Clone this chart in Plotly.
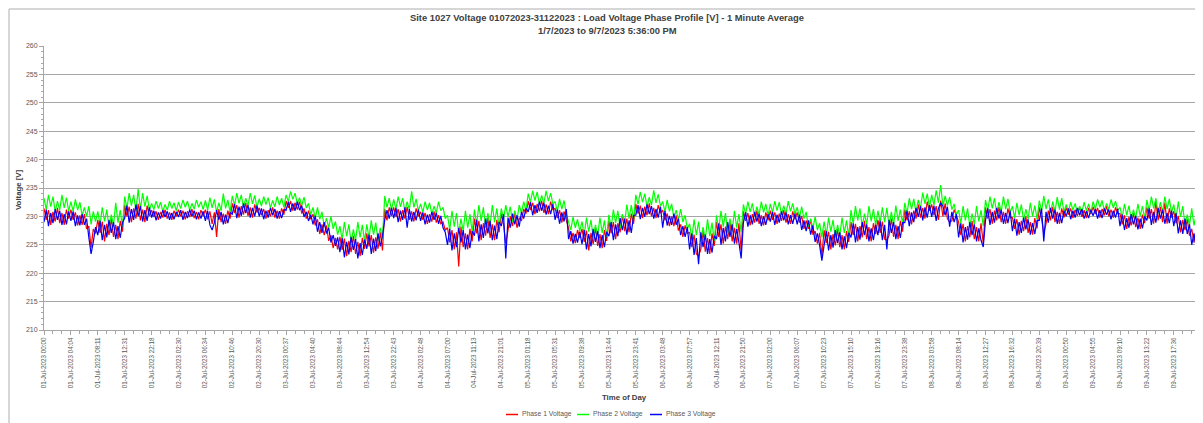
import plotly.graph_objects as go

# ---------------- data ----------------
tick_labels = [
    "01-Jul-2023 00:00", "01-Jul-2023 04:04", "01-Jul-2023 08:11", "01-Jul-2023 12:31",
    "01-Jul-2023 22:18", "02-Jul-2023 02:30", "02-Jul-2023 06:34", "02-Jul-2023 10:46",
    "02-Jul-2023 20:30", "03-Jul-2023 00:37", "03-Jul-2023 04:40", "03-Jul-2023 08:44",
    "03-Jul-2023 12:54", "03-Jul-2023 22:43", "04-Jul-2023 02:48", "04-Jul-2023 07:00",
    "04-Jul-2023 11:13", "04-Jul-2023 21:01", "05-Jul-2023 01:18", "05-Jul-2023 05:31",
    "05-Jul-2023 09:38", "05-Jul-2023 13:44", "05-Jul-2023 23:41", "06-Jul-2023 03:48",
    "06-Jul-2023 07:57", "06-Jul-2023 12:11", "06-Jul-2023 21:50", "07-Jul-2023 02:00",
    "07-Jul-2023 06:07", "07-Jul-2023 10:23", "07-Jul-2023 15:10", "07-Jul-2023 19:16",
    "07-Jul-2023 23:38", "08-Jul-2023 03:58", "08-Jul-2023 08:14", "08-Jul-2023 12:27",
    "08-Jul-2023 16:32", "08-Jul-2023 20:39", "09-Jul-2023 00:50", "09-Jul-2023 04:55",
    "09-Jul-2023 09:10", "09-Jul-2023 13:22", "09-Jul-2023 17:36",
]
samples_per_label = 12

phase1_voltage = [
    231.4, 229.4, 231.1, 228.5, 230.8, 229.1, 231.5, 228.8, 230.6, 228.5, 231.2, 229.6,
    231.2, 229.4, 230.7, 228.4, 230.2, 228.5, 230.4, 227.8, 228.3, 224.5, 227.8, 227.0,
    229.4, 227.1, 229.1, 225.6, 228.7, 226.7, 229.6, 226.4, 228.5, 226.0, 229.2, 227.3,
    232.0, 230.0, 231.7, 229.0, 231.4, 229.6, 232.2, 229.3, 231.2, 229.0, 231.9, 230.1,
    231.1, 229.9, 230.9, 229.4, 230.8, 229.8, 231.2, 229.6, 230.7, 229.4, 231.0, 230.0,
    231.2, 230.0, 231.0, 229.5, 230.9, 229.9, 231.3, 229.7, 230.8, 229.5, 231.1, 230.1,
    231.2, 229.5, 230.9, 228.7, 230.7, 226.4, 231.3, 229.0, 230.5, 228.7, 231.0, 229.6,
    232.3, 230.6, 232.0, 229.8, 231.8, 230.3, 232.4, 230.1, 231.6, 229.8, 232.1, 230.7,
    231.5, 230.2, 231.3, 229.6, 231.1, 230.0, 231.6, 229.8, 231.0, 229.6, 231.4, 230.3,
    232.7, 231.5, 232.7, 231.0, 232.4, 231.2, 232.6, 230.5, 231.4, 229.6, 231.0, 229.5,
    230.4, 228.4, 229.5, 226.9, 228.6, 226.7, 228.4, 225.7, 226.7, 224.4, 226.2, 224.2,
    226.4, 224.1, 226.1, 223.0, 225.7, 223.7, 226.6, 223.4, 225.5, 223.0, 226.2, 224.3,
    227.0, 224.7, 226.7, 223.6, 226.3, 224.3, 227.2, 224.0, 231.3, 229.3, 231.6, 230.1,
    231.6, 229.9, 231.3, 229.1, 231.1, 229.6, 231.7, 229.4, 230.9, 229.1, 231.4, 230.0,
    230.8, 229.4, 230.6, 228.7, 230.4, 229.1, 230.9, 228.9, 230.2, 228.7, 229.0, 227.6,
    228.0, 225.4, 227.6, 224.2, 227.2, 221.2, 228.2, 224.6, 227.0, 224.2, 227.8, 225.6,
    229.6, 227.0, 229.2, 225.8, 228.8, 226.6, 229.8, 226.2, 228.6, 225.8, 229.4, 227.2,
    230.5, 228.6, 225.2, 227.7, 230.0, 228.3, 230.7, 228.0, 229.8, 229.2, 231.3, 230.5,
    232.7, 231.1, 232.4, 230.4, 232.2, 230.9, 232.8, 230.6, 232.1, 230.4, 232.6, 231.2,
    231.4, 229.7, 231.1, 228.9, 230.9, 229.4, 227.9, 225.6, 227.1, 225.3, 227.6, 226.2,
    227.8, 225.5, 227.5, 224.0, 227.1, 225.1, 228.0, 224.8, 226.9, 224.4, 227.6, 225.7,
    229.2, 227.0, 229.0, 226.0, 228.8, 227.2, 230.2, 227.4, 229.6, 227.2, 230.5, 228.7,
    232.2, 230.5, 231.9, 229.7, 231.7, 230.2, 232.3, 230.0, 231.5, 229.7, 232.0, 230.6,
    231.1, 229.3, 230.5, 228.3, 230.0, 228.3, 230.2, 227.5, 228.6, 226.4, 228.4, 227.0,
    227.2, 224.6, 226.8, 223.4, 223.0, 224.2, 227.4, 223.8, 226.2, 223.4, 227.0, 224.8,
    229.0, 226.4, 228.6, 225.2, 228.2, 226.0, 229.2, 225.6, 228.0, 225.2, 228.8, 224.0,
    230.9, 229.2, 230.6, 228.4, 230.4, 228.9, 231.0, 228.7, 230.2, 228.4, 230.7, 229.3,
    231.0, 229.4, 230.7, 228.7, 230.5, 229.2, 231.1, 228.9, 230.4, 228.7, 230.9, 229.5,
    230.7, 228.9, 230.1, 227.8, 229.3, 227.8, 229.4, 226.8, 227.4, 225.2, 227.1, 223.0,
    227.6, 225.3, 227.3, 224.2, 226.9, 224.9, 227.8, 224.6, 226.7, 224.2, 227.4, 225.5,
    229.0, 226.7, 228.7, 225.6, 228.3, 226.3, 229.2, 226.0, 228.1, 225.6, 228.8, 226.9,
    229.4, 227.1, 229.1, 226.0, 225.8, 226.7, 229.6, 226.4, 228.5, 226.0, 229.2, 227.3,
    231.2, 229.3, 230.9, 228.6, 231.0, 229.6, 232.1, 229.8, 231.5, 229.6, 232.6, 231.0,
    232.1, 230.2, 231.8, 229.4, 232.8, 230.0, 232.3, 229.6, 229.0, 229.2, 231.2, 230.2,
    229.0, 226.7, 228.7, 225.6, 228.3, 226.3, 229.2, 226.0, 228.1, 225.6, 228.8, 225.2,
    231.6, 229.6, 231.3, 228.7, 231.0, 229.3, 231.7, 229.0, 230.8, 228.7, 231.4, 229.8,
    229.8, 227.8, 229.5, 226.8, 229.2, 227.4, 230.0, 227.1, 229.0, 226.8, 229.7, 227.9,
    231.6, 229.6, 227.0, 228.7, 231.0, 229.3, 231.7, 229.0, 230.8, 228.7, 231.4, 229.8,
    231.6, 230.3, 231.4, 229.7, 231.2, 230.1, 231.7, 229.9, 231.1, 229.7, 231.5, 230.4,
    231.7, 230.4, 231.5, 229.8, 231.3, 230.2, 231.8, 230.0, 231.2, 229.8, 231.6, 230.5,
    230.5, 228.6, 230.2, 227.8, 229.9, 228.4, 230.6, 228.1, 229.8, 227.8, 230.3, 228.8,
    231.6, 229.6, 231.3, 228.7, 232.6, 229.3, 231.7, 229.0, 232.4, 228.7, 231.4, 229.8,
    230.9, 228.8, 230.1, 227.2, 229.4, 227.6, 229.5, 226.6, 227.8, 225.4, 227.8, 226.0,
    226.4, 227.0,
]

phase2_voltage = [
    233.2, 231.2, 233.8, 231.7, 233.5, 230.8, 232.7, 231.1, 233.8, 231.5, 233.3, 230.9,
    232.6, 230.9, 233.0, 231.1, 232.5, 230.1, 231.6, 230.0, 231.8, 228.6, 230.9, 229.1,
    230.9, 228.5, 231.6, 229.1, 231.2, 228.0, 230.3, 228.4, 232.4, 228.9, 231.1, 228.2,
    233.5, 231.4, 234.1, 231.9, 233.8, 230.9, 234.8, 231.2, 234.1, 231.7, 233.6, 231.1,
    232.3, 231.2, 232.7, 231.4, 232.5, 230.9, 232.1, 231.1, 232.7, 231.4, 232.4, 231.0,
    232.5, 231.4, 232.9, 231.6, 232.7, 231.1, 232.3, 231.3, 232.9, 231.6, 232.6, 231.2,
    232.8, 231.1, 233.3, 231.5, 233.0, 230.7, 232.4, 231.0, 234.0, 231.4, 232.9, 230.8,
    233.6, 231.9, 234.1, 232.3, 233.8, 231.5, 233.2, 231.8, 234.1, 232.2, 233.7, 231.6,
    233.1, 231.8, 233.5, 232.1, 233.3, 231.5, 232.8, 231.7, 233.5, 232.0, 233.2, 231.6,
    233.8, 232.6, 234.4, 233.0, 234.1, 232.2, 233.3, 231.9, 233.4, 231.5, 232.3, 230.3,
    231.6, 229.6, 231.6, 229.5, 230.8, 228.2, 229.7, 228.0, 230.0, 227.8, 229.1, 226.8,
    228.3, 225.9, 229.0, 226.5, 228.6, 225.4, 227.7, 225.8, 229.0, 226.3, 228.5, 225.6,
    228.6, 226.2, 229.3, 226.8, 228.9, 225.7, 228.0, 226.1, 233.6, 231.6, 233.2, 231.1,
    233.0, 231.3, 233.5, 231.7, 233.2, 230.9, 232.6, 231.2, 234.4, 231.6, 233.1, 231.0,
    232.2, 230.7, 232.6, 231.1, 232.4, 230.4, 231.8, 230.6, 232.6, 231.0, 231.6, 229.6,
    230.2, 227.6, 231.0, 228.2, 230.6, 227.0, 229.6, 227.4, 231.0, 228.0, 230.4, 227.2,
    231.2, 228.6, 232.0, 229.2, 231.6, 228.0, 230.6, 228.4, 232.0, 229.0, 231.4, 228.2,
    231.4, 229.5, 232.0, 229.9, 231.7, 229.0, 231.0, 229.3, 232.0, 230.6, 232.6, 231.0,
    234.0, 232.5, 234.5, 232.8, 234.3, 232.1, 233.7, 232.3, 234.5, 232.7, 234.1, 232.2,
    232.6, 230.9, 233.1, 231.3, 232.8, 230.5, 229.0, 227.6, 229.9, 228.0, 229.5, 227.4,
    229.1, 226.7, 229.8, 227.3, 229.4, 226.2, 228.5, 226.6, 229.8, 227.1, 229.3, 226.4,
    230.3, 228.0, 231.2, 228.8, 231.0, 227.9, 230.4, 228.8, 232.1, 229.6, 232.0, 229.4,
    233.8, 232.1, 234.3, 232.5, 234.0, 231.7, 233.4, 232.0, 234.6, 232.4, 233.9, 231.8,
    232.6, 230.8, 232.9, 230.9, 232.2, 229.7, 231.1, 229.4, 231.3, 229.0, 230.2, 227.8,
    228.7, 226.1, 229.5, 226.7, 229.1, 225.5, 228.1, 225.9, 229.5, 226.5, 228.9, 225.7,
    230.2, 227.6, 231.0, 228.2, 230.6, 227.0, 229.6, 227.4, 231.0, 228.0, 230.4, 227.2,
    232.1, 230.4, 232.6, 230.8, 232.3, 230.0, 231.7, 230.3, 232.6, 230.7, 232.2, 230.1,
    232.2, 230.7, 232.7, 231.0, 232.5, 230.3, 231.9, 230.5, 232.7, 230.9, 232.3, 230.4,
    231.6, 229.7, 231.7, 229.6, 230.8, 228.2, 229.6, 227.9, 229.9, 227.6, 228.8, 226.3,
    229.1, 226.7, 229.8, 227.3, 229.4, 226.2, 228.5, 226.6, 229.8, 227.1, 229.3, 226.4,
    231.1, 228.7, 231.8, 229.3, 231.4, 228.2, 230.5, 228.6, 231.8, 229.1, 231.3, 228.4,
    231.0, 228.9, 231.6, 229.0, 231.5, 228.3, 230.8, 228.5, 231.9, 229.2, 231.2, 228.7,
    232.4, 230.5, 233.2, 231.3, 233.1, 230.7, 232.9, 231.4, 234.2, 232.2, 234.0, 231.6,
    233.8, 232.0, 234.6, 232.4, 235.5, 231.8, 233.6, 231.9, 233.4, 231.2, 232.2, 230.3,
    231.1, 228.7, 231.8, 229.3, 231.4, 228.2, 230.5, 228.6, 231.8, 229.1, 231.1, 228.3,
    232.9, 231.0, 233.5, 231.4, 233.2, 230.5, 232.5, 230.8, 233.5, 231.3, 233.1, 230.7,
    231.8, 229.7, 232.4, 230.2, 232.1, 229.2, 231.3, 229.5, 232.4, 230.0, 231.9, 229.5,
    232.8, 230.9, 233.6, 231.3, 233.0, 230.6, 232.6, 230.9, 233.4, 231.2, 233.2, 230.8,
    232.1, 230.8, 232.5, 231.1, 232.3, 230.5, 231.8, 230.7, 232.5, 231.0, 232.2, 230.6,
    232.6, 231.3, 233.0, 231.6, 232.8, 231.0, 232.3, 231.2, 233.0, 231.5, 232.7, 231.1,
    231.6, 229.8, 232.2, 230.2, 231.9, 229.4, 231.2, 229.7, 232.2, 230.1, 231.8, 229.5,
    232.9, 231.0, 233.5, 231.4, 233.2, 230.5, 232.5, 230.8, 233.5, 231.3, 233.1, 230.7,
    232.1, 229.6, 232.6, 229.9, 231.8, 228.4, 230.3, 228.4, 231.4, 228.4, 230.4, 227.6,
    229.4, 228.6,
]

phase3_voltage = [
    229.0, 231.2, 228.3, 230.6, 228.8, 231.3, 229.4, 231.0, 228.5, 230.4, 228.6, 230.9,
    229.2, 230.9, 228.3, 230.2, 228.4, 230.4, 228.5, 229.6, 226.3, 223.4, 225.5, 228.1,
    226.7, 229.2, 225.8, 228.5, 226.3, 229.4, 227.1, 229.0, 226.0, 228.3, 226.2, 228.9,
    229.7, 231.9, 228.9, 231.3, 229.4, 232.1, 230.0, 231.8, 229.1, 231.1, 229.2, 231.6,
    229.8, 231.0, 229.3, 230.7, 229.6, 231.1, 229.9, 230.9, 229.4, 230.6, 229.5, 230.8,
    229.9, 231.1, 229.4, 230.8, 229.7, 231.2, 230.0, 231.0, 229.5, 230.7, 229.6, 230.9,
    229.2, 231.0, 228.5, 227.6, 228.9, 231.1, 229.4, 230.8, 228.6, 230.3, 228.8, 230.7,
    230.4, 232.2, 229.7, 231.7, 230.1, 232.3, 230.6, 232.0, 229.8, 231.5, 230.0, 231.9,
    230.0, 231.4, 229.5, 231.0, 229.8, 231.5, 230.2, 231.3, 229.6, 230.9, 229.7, 231.2,
    231.1, 232.6, 230.8, 232.3, 231.0, 232.6, 231.1, 231.9, 229.9, 230.8, 229.2, 230.3,
    228.6, 230.1, 227.3, 229.0, 227.1, 229.0, 227.0, 228.0, 225.4, 226.7, 224.8, 226.3,
    223.7, 226.2, 222.8, 225.5, 223.3, 226.4, 224.1, 226.0, 222.6, 225.3, 223.2, 225.9,
    224.3, 226.8, 223.4, 226.1, 223.9, 227.0, 224.7, 226.6, 229.4, 231.1, 229.6, 231.5,
    229.7, 231.5, 229.0, 231.0, 229.4, 231.6, 228.0, 231.3, 229.1, 230.8, 229.3, 231.2,
    229.2, 230.7, 228.6, 230.3, 228.9, 230.8, 229.4, 230.6, 228.7, 230.1, 228.0, 227.2,
    225.0, 227.8, 224.0, 227.0, 224.6, 228.0, 225.4, 227.6, 224.2, 226.8, 224.4, 227.4,
    226.6, 229.4, 225.6, 228.6, 226.2, 229.6, 227.0, 229.2, 225.8, 228.4, 226.0, 229.0,
    228.3, 230.4, 222.6, 229.8, 228.0, 230.5, 228.6, 230.2, 228.2, 230.8, 229.6, 231.4,
    230.8, 232.5, 230.2, 232.0, 230.6, 232.6, 231.0, 232.4, 230.3, 231.9, 230.4, 232.2,
    229.4, 231.2, 228.7, 230.7, 229.1, 231.3, 226.0, 227.4, 225.2, 226.9, 225.4, 227.3,
    225.1, 227.6, 224.2, 226.9, 224.7, 227.8, 225.5, 227.4, 224.4, 226.7, 224.6, 227.3,
    226.5, 229.0, 225.8, 228.6, 226.5, 229.7, 227.6, 229.6, 226.8, 229.3, 227.1, 230.2,
    230.2, 232.0, 229.5, 231.5, 229.9, 232.1, 230.4, 231.8, 229.6, 231.3, 229.8, 231.7,
    228.0, 231.0, 228.4, 230.1, 228.5, 230.5, 228.5, 229.6, 226.7, 228.3, 226.4, 228.1,
    224.2, 227.0, 223.2, 226.2, 221.6, 227.2, 224.6, 226.8, 223.4, 226.0, 223.6, 226.6,
    226.0, 228.8, 225.0, 228.0, 225.6, 229.0, 226.4, 228.6, 225.2, 227.8, 225.4, 222.6,
    228.9, 230.7, 228.2, 230.2, 228.6, 230.8, 229.1, 230.5, 228.3, 230.0, 228.5, 230.4,
    229.1, 230.8, 228.5, 230.3, 228.9, 230.9, 229.3, 230.7, 228.6, 230.2, 228.7, 230.5,
    228.6, 230.3, 227.6, 229.3, 227.4, 229.3, 226.8, 228.4, 225.5, 227.0, 224.9, 222.2,
    224.9, 227.4, 224.0, 226.7, 224.5, 227.6, 225.3, 227.2, 224.2, 226.5, 224.4, 227.1,
    226.3, 228.8, 225.4, 228.1, 225.9, 229.0, 226.7, 228.6, 225.6, 227.9, 225.8, 228.5,
    226.7, 229.2, 225.8, 228.5, 224.2, 229.4, 227.1, 229.0, 226.0, 228.3, 226.2, 228.9,
    228.9, 231.0, 228.3, 230.7, 229.0, 231.5, 229.9, 231.8, 229.3, 231.6, 229.8, 232.0,
    229.9, 231.9, 229.2, 231.4, 232.4, 231.8, 230.2, 231.7, 228.2, 230.8, 229.0, 230.4,
    226.3, 228.8, 225.4, 228.1, 225.9, 229.0, 226.7, 228.6, 225.6, 227.9, 225.8, 224.6,
    229.3, 231.4, 228.5, 230.8, 228.9, 231.5, 229.6, 231.2, 228.7, 230.6, 228.8, 231.0,
    227.4, 229.6, 226.6, 229.0, 227.1, 229.8, 227.7, 229.5, 226.8, 228.8, 226.9, 229.3,
    229.3, 231.4, 225.6, 230.8, 228.9, 231.5, 229.6, 231.2, 228.7, 230.6, 228.8, 231.0,
    230.0, 231.4, 229.5, 231.0, 229.8, 231.5, 230.2, 231.3, 229.6, 230.9, 229.7, 231.2,
    230.1, 231.3, 229.6, 231.1, 229.7, 231.4, 230.3, 231.2, 229.5, 231.0, 229.8, 231.3,
    228.3, 230.3, 227.6, 229.7, 228.0, 230.4, 228.6, 230.1, 227.7, 229.6, 227.9, 230.0,
    229.3, 231.4, 228.5, 230.8, 228.9, 231.5, 229.6, 231.2, 228.7, 230.6, 228.8, 231.0,
    228.3, 230.6, 227.0, 229.3, 226.9, 229.6, 226.9, 228.6, 225.0, 227.0, 224.6, 226.9,
    225.6, 226.4,
]

series_names = ["Phase 1 Voltage", "Phase 2 Voltage", "Phase 3 Voltage"]
series_colors = ["#FF0000", "#00FF00", "#0000FF"]

# ---------------- layout helpers ----------------
OFF = 8                                   # page body margin of the html
PL, PR, PT, PB = 44, 1203, 46, 330        # plot area on the page, pixels
W, H = 1203 - OFF, 423 - OFF
FONT = "Liberation Sans, Arial, sans-serif"
TXT = "#404040"
TICK = "#595959"
AX = "#a6a6a6"


def px(x):
    return (x - PL) / (PR - PL)


def py(y):
    return (PB - y) / (PB - PT)


n = min(len(phase1_voltage), len(phase2_voltage), len(phase3_voltage))
xs = list(range(n))

fig = go.Figure()
for name, color, ys in zip(series_names, series_colors,
                           [phase1_voltage, phase2_voltage, phase3_voltage]):
    fig.add_trace(go.Scatter(x=xs, y=ys[:n], mode="lines", name=name,
                             line=dict(color=color, width=1.2), showlegend=False))

tickvals = [i * samples_per_label for i in range(len(tick_labels))]
x_end = (PR - PL) / 26.9 * samples_per_label

fig.update_layout(
    width=W, height=H,
    margin=dict(l=PL - OFF, r=0, t=PT - OFF, b=H - (PB - OFF), pad=0),
    paper_bgcolor="white", plot_bgcolor="white",
    font=dict(family=FONT, color=TXT),
    xaxis=dict(
        range=[0, x_end], tickmode="array", tickvals=tickvals, ticktext=tick_labels,
        tickangle=-90, tickfont=dict(size=6.3, color=TICK, family=FONT),
        ticks="outside", ticklen=4, tickcolor=AX, showline=True, linecolor=AX,
        linewidth=1, showgrid=False, zeroline=False,
        minor=dict(tickmode="array",
                   tickvals=[i * samples_per_label / 3 for i in range(3 * len(tick_labels) + 3)],
                   ticks="outside", ticklen=3, tickcolor=AX, showgrid=False),
    ),
    yaxis=dict(
        range=[210, 260], tick0=210, dtick=5, showgrid=True, gridcolor=AX,
        gridwidth=1.2, showline=True, linecolor=AX, linewidth=1,
        ticks="outside", ticklen=4, tickcolor=AX, zeroline=False,
        tickfont=dict(size=7, color=TICK, family=FONT),
        minor=dict(dtick=1, ticks="outside", ticklen=2, tickcolor=AX, showgrid=False),
    ),
)

annotations = [
    dict(text="<b>Site 1027 Voltage 01072023-31122023 : Load Voltage Phase Profile [V] - 1 Minute Average</b>",
         x=px(607), y=py(18), font=dict(size=9.4, color=TXT, family=FONT)),
    dict(text="<b>1/7/2023 to 9/7/2023 5:36:00 PM</b>",
         x=px(607), y=py(31), font=dict(size=9.4, color=TXT, family=FONT)),
    dict(text="<b>Voltage [V]</b>", x=px(18), y=py(190), textangle=-90,
         font=dict(size=7.8, color=TXT, family=FONT)),
    dict(text="<b>Time of Day</b>", x=px(624), y=py(397),
         font=dict(size=7.8, color=TXT, family=FONT)),
]
legend_pos = [(506, 518), (577, 589), (650, 662)]
shapes = [
    dict(type="line", xref="paper", yref="paper", x0=px(9), x1=px(1230), y0=py(9), y1=py(9),
         line=dict(color="#c8c8c8", width=1.5)),
    dict(type="line", xref="paper", yref="paper", x0=px(9), x1=px(9), y0=py(9), y1=py(450),
         line=dict(color="#c8c8c8", width=1.5)),
]
for (x0, x1), name, color in zip(legend_pos, series_names, series_colors):
    shapes.append(dict(type="line", xref="paper", yref="paper", x0=px(x0), x1=px(x1),
                       y0=py(414.5), y1=py(414.5), line=dict(color=color, width=1.5)))
    annotations.append(dict(text=name, x=px(x1 + 2), y=py(414.5), xanchor="left",
                            font=dict(size=6.8, color=TICK, family=FONT)))

for a in annotations:
    a.setdefault("xref", "paper")
    a.setdefault("yref", "paper")
    a.setdefault("showarrow", False)
    a.setdefault("xanchor", "center")
    a.setdefault("yanchor", "middle")

fig.update_layout(annotations=annotations, shapes=shapes)
fig.write_html("out.html")
